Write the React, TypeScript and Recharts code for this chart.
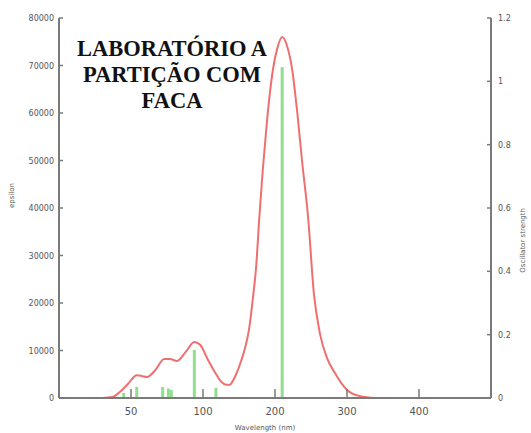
import React from 'react';
import { ComposedChart, Line, Bar, XAxis, YAxis, Label } from 'recharts';

// x axis of the original is not linear in nm: labelled ticks are evenly spaced
const axisNm = [0, 50, 100, 200, 300, 400, 500];
const xTickLabels = [50, 100, 200, 300, 400];

// absorption curve (epsilon)
const curveNm = [30, 37, 42, 48, 54, 58, 61, 67, 73, 77, 82, 88, 94, 98, 107, 117, 126, 132, 137.5, 141, 146, 153, 158, 164, 169, 174, 178, 183, 189, 197, 203, 210, 217, 224, 231, 237.5, 246, 254, 262.5, 272, 283, 300, 318, 340];
const curveEps = [0, 200, 1200, 3000, 4800, 4600, 4400, 5900, 8200, 8200, 7800, 9700, 11800, 11200, 8000, 5300, 3300, 2800, 2800, 3500, 5000, 7800, 10300, 14500, 20600, 28000, 37500, 48000, 58500, 69000, 73500, 76000, 74000, 69000, 60000, 50000, 38000, 22000, 13500, 8500, 5300, 1700, 400, 0];

// oscillator strength sticks
const stickNm = [45, 54, 72, 76, 78, 94, 118, 210];
const stickF = [0.016, 0.035, 0.035, 0.03, 0.025, 0.152, 0.032, 1.045];

const epsTicks = [0, 10000, 20000, 30000, 40000, 50000, 60000, 70000, 80000];
const fTicks = [0, 0.2, 0.4, 0.6, 0.8, 1, 1.2];

const titleLines = ['LABORATÓRIO A', 'PARTIÇÃO COM', 'FACA'];

// piecewise nm -> axis position
const toUnit = (nm: number) => {
  for (let i = 1; i < axisNm.length; i++) {
    if (nm <= axisNm[i]) {
      return i - 1 + (nm - axisNm[i - 1]) / (axisNm[i] - axisNm[i - 1]);
    }
  }
  return axisNm.length - 1;
};

const data = [
  ...curveNm.map((nm, i) => ({ u: toUnit(nm), eps: curveEps[i] as number | null, f: null as number | null })),
  ...stickNm.map((nm, i) => ({ u: toUnit(nm), eps: null as number | null, f: stickF[i] as number | null })),
].sort((a, b) => a.u - b.u);

const AXIS = '#7a7a7a';
const TXT = '#555';
const FONT = 'DejaVu Sans';

const XTick = (props: any) => {
  const { x, y, payload } = props;
  return (
    <g>
      <line x1={x} y1={y} x2={x} y2={y - 9} stroke={AXIS} strokeWidth={1.5} />
      <text x={x} y={y + 17} textAnchor="middle" fontSize={10} fontFamily={FONT} fill={TXT}>
        {xTickLabels[payload.value - 1]}
      </text>
    </g>
  );
};

const LeftTick = (props: any) => {
  const { x, y, payload } = props;
  return (
    <g>
      <line x1={x} y1={y} x2={x + 4} y2={y} stroke={AXIS} strokeWidth={1.5} />
      <text x={x - 5} y={y + 3} textAnchor="end" fontSize={8} fontFamily={FONT} fill={TXT}>
        {payload.value}
      </text>
    </g>
  );
};

const RightTick = (props: any) => {
  const { x, y, payload } = props;
  return (
    <g>
      <line x1={x} y1={y} x2={x - 4} y2={y} stroke={AXIS} strokeWidth={1.5} />
      <text x={x + 7} y={y + 3} textAnchor="start" fontSize={8} fontFamily={FONT} fill={TXT}>
        {payload.value}
      </text>
    </g>
  );
};

const Stick = (p: any) => {
  if (!p.height) return null;
  return <rect x={p.x + p.width / 2 - 1.5} y={p.y} width={3} height={p.height} fill="#8fdf8f" />;
};

export default function App() {
  return (
    <div style={{ position: 'absolute', left: 0, top: 0, width: 531, height: 433, background: '#fff' }}>
      <ComposedChart width={531} height={433} data={data} margin={{ top: 18, right: 0, bottom: 0, left: 0 }}>
        <XAxis
          dataKey="u"
          type="number"
          domain={[0, 6]}
          ticks={[1, 2, 3, 4, 5]}
          height={35}
          tickSize={0}
          tickMargin={0}
          tick={<XTick />}
          axisLine={{ stroke: AXIS, strokeWidth: 2 }}
        >
          <Label value="Wavelength (nm)" position="insideBottom" offset={3} fontSize={7} fontFamily={FONT} fill={TXT} dx={-10} />
        </XAxis>
        <XAxis xAxisId="top" orientation="top" type="number" domain={[0, 6]} height={0} tick={false} tickLine={false} axisLine={{ stroke: AXIS, strokeWidth: 2 }} />
        <YAxis
          yAxisId="left"
          domain={[0, 80000]}
          ticks={epsTicks}
          width={59}
          allowDataOverflow
          tickSize={0}
          tickMargin={0}
          tick={<LeftTick />}
          axisLine={{ stroke: AXIS, strokeWidth: 2 }}
        >
          <Label value="epsilon" angle={-90} position="insideLeft" offset={12} fontSize={7} fontFamily={FONT} fill={TXT} />
        </YAxis>
        <YAxis
          yAxisId="right"
          orientation="right"
          domain={[0, 1.2]}
          ticks={fTicks}
          width={40}
          allowDataOverflow
          tickSize={0}
          tickMargin={0}
          tick={<RightTick />}
          axisLine={{ stroke: AXIS, strokeWidth: 2 }}
        >
          <Label value="Oscillator strength" angle={-90} position="insideRight" offset={8} fontSize={7} fontFamily={FONT} fill={TXT} />
        </YAxis>
        <Bar yAxisId="right" dataKey="f" fill="#8fdf8f" barSize={3} shape={<Stick />} isAnimationActive={false} />
        <Line
          yAxisId="left"
          dataKey="eps"
          type="monotone"
          stroke="#ee6f6f"
          strokeWidth={2}
          dot={false}
          connectNulls
          isAnimationActive={false}
        />
      </ComposedChart>
      {titleLines.map((t, i) => (
        <div
          key={t}
          style={{
            position: 'absolute',
            left: 72,
            width: 200,
            top: 36 + i * 26,
            textAlign: 'center',
            fontFamily: 'Liberation Serif',
            fontWeight: 'bold',
            fontSize: 22.5,
            lineHeight: '26px',
            color: '#111',
            whiteSpace: 'nowrap',
          }}
        >
          {t}
        </div>
      ))}
    </div>
  );
}
